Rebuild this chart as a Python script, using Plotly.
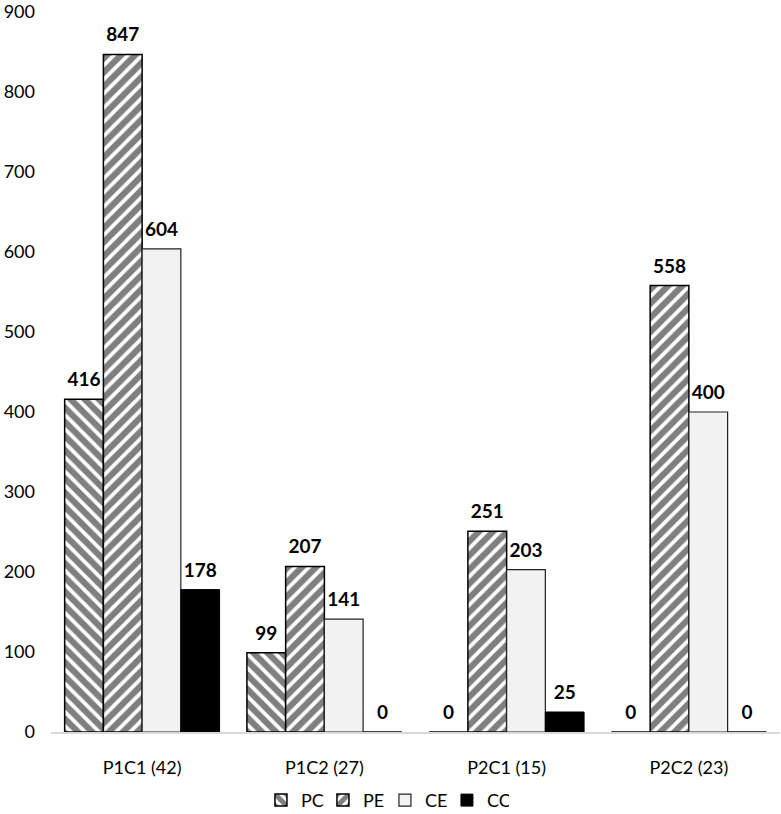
import plotly.graph_objects as go

categories = ["P1C1 (42)", "P1C2 (27)", "P2C1 (15)", "P2C2 (23)"]
pc_values = [416, 99, 0, 0]
pe_values = [847, 207, 251, 558]
ce_values = [604, 141, 203, 400]
cc_values = [178, 0, 25, 0]
y_ticks = [0, 100, 200, 300, 400, 500, 600, 700, 800, 900]

FONT = "Lato, Carlito, 'Liberation Sans', sans-serif"
LABEL_TMPL = ("<span style='font-size:19px'><b>%{y}</b></span>"
              "<br><span style='color:rgba(0,0,0,0)'>.</span>")

fig = go.Figure()

def add_bar(name, vals, fill, pattern=None, line_color="black", line_width=1.5):
    marker = dict(color=fill, line=dict(color=line_color, width=line_width))
    if pattern:
        marker["pattern"] = dict(shape=pattern, fgcolor="black", bgcolor="white",
                                 size=10, solidity=0.62, fillmode="overlay")
    fig.add_trace(go.Bar(
        name=name, x=categories, y=vals, marker=marker,
        texttemplate=LABEL_TMPL, textposition="outside",
        textfont=dict(family=FONT, size=7, color="black"),
        constraintext="none", cliponaxis=False,
    ))

add_bar("PC", pc_values, "white", "\\")
add_bar("PE", pe_values, "white", "/")
add_bar("CE", ce_values, "#f2f2f2", None, "#222222", 1.2)
add_bar("CC", cc_values, "black", None, "black", 1)

fig.update_layout(
    width=781, height=814,
    margin=dict(l=51, r=1, t=12, b=82, autoexpand=False),
    paper_bgcolor="white", plot_bgcolor="white",
    barmode="group", bargap=0.15, bargroupgap=0,
    font=dict(family=FONT, size=18, color="black"),
    showlegend=True,
    legend=dict(orientation="h", x=0.288, xanchor="left", y=-0.095, yanchor="middle",
                font=dict(family=FONT, size=18, color="black"), itemwidth=30,
                entrywidth=17, traceorder="normal"),
)
fig.update_xaxes(showline=True, linecolor="#d9d9d9", linewidth=1.5, ticks="",
                 automargin=False, ticklabelstandoff=19,
                 tickfont=dict(family=FONT, size=18, color="black"),
                 showgrid=False, zeroline=False)
fig.update_yaxes(range=[0, 900], tickvals=y_ticks, showgrid=False, zeroline=False,
                 showline=False, ticks="", automargin=False, ticklabelstandoff=15,
                 tickfont=dict(family=FONT, size=18, color="black"))

fig.write_html("out.html", config={"displayModeBar": False},
               post_script="document.body.style.margin='0';document.body.style.overflow='hidden';")
